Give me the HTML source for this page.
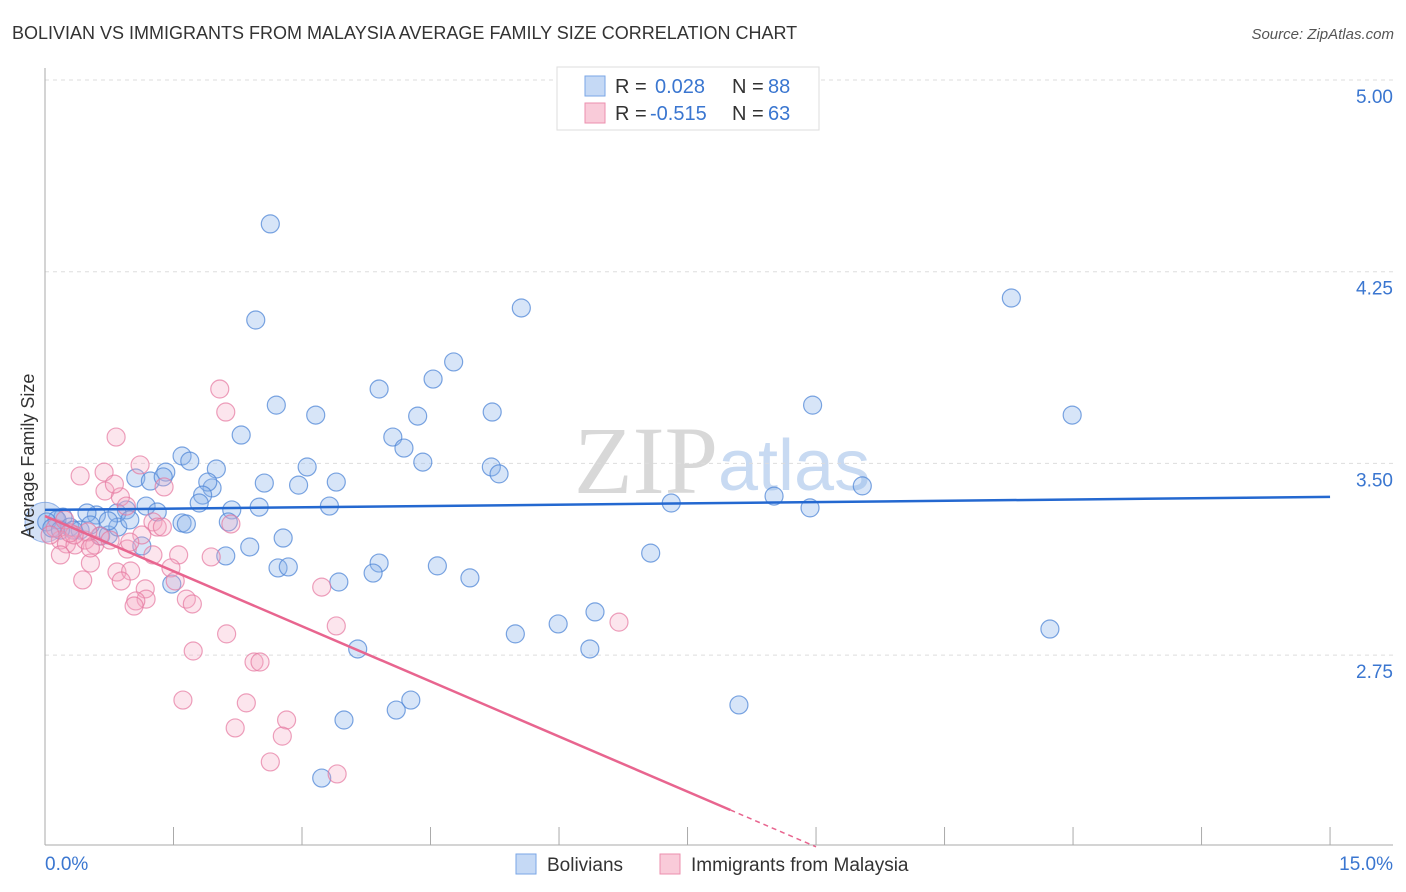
<!DOCTYPE html>
<html><head><meta charset="utf-8"><style>
body{margin:0;background:#fff;font-family:"Liberation Sans",sans-serif}
svg{display:block}
</style></head><body>
<svg id="c" width="1406" height="892" xmlns="http://www.w3.org/2000/svg">
<text x="12" y="39" font-size="18" fill="#333">BOLIVIAN VS IMMIGRANTS FROM MALAYSIA AVERAGE FAMILY SIZE CORRELATION CHART</text>
<text x="1394" y="39" font-size="15" fill="#555" font-style="italic" text-anchor="end">Source: ZipAtlas.com</text>
<text x="718" y="493" font-size="96" fill="#d8d8d8" text-anchor="end" font-family="Liberation Serif,serif">ZIP</text>
<text x="718" y="490" font-size="72" fill="#c8daf2">atlas</text>
<g id="grid"></g>
<g id="pts"></g>
<g id="lines"></g>
<text transform="translate(34,456) rotate(-90)" font-size="18" fill="#333" text-anchor="middle">Average Family Size</text>
<g>
<rect x="557" y="67" width="262" height="63" fill="#fff" stroke="#ddd"/>
<rect x="585" y="76" width="20" height="20" fill="#c5d9f5" stroke="#7aa6e6"/>
<rect x="585" y="103" width="20" height="20" fill="#f9cbd9" stroke="#ec8fae"/>
<text x="615" y="93" font-size="20" fill="#333">R =</text>
<text x="655" y="93" font-size="20" fill="#3a76d0">0.028</text>
<text x="732" y="93" font-size="20" fill="#333">N =</text>
<text x="768" y="93" font-size="20" fill="#3a76d0">88</text>
<text x="615" y="120" font-size="20" fill="#333">R =</text>
<text x="650" y="120" font-size="20" fill="#3a76d0">-0.515</text>
<text x="732" y="120" font-size="20" fill="#333">N =</text>
<text x="768" y="120" font-size="20" fill="#3a76d0">63</text>
</g>
<g>
<rect x="516" y="854" width="20" height="20" fill="#c5d9f5" stroke="#7aa6e6"/>
<text x="547" y="871" font-size="19" fill="#333">Bolivians</text>
<rect x="660" y="854" width="20" height="20" fill="#f9cbd9" stroke="#ec8fae"/>
<text x="691" y="871" font-size="19" fill="#333">Immigrants from Malaysia</text>
</g>
<text x="45" y="870" font-size="19" fill="#3a76d0">0.0%</text>
<text x="1393" y="870" font-size="19" fill="#3a76d0" text-anchor="end">15.0%</text>
</svg>
<script>
const yTicks=[5.00,4.25,3.50,2.75];
const yTickLabels=["5.00","4.25","3.50","2.75"];
const xTicks=[0,1.5,3,4.5,6,7.5,9,10.5,12,13.5,15];
const bluePx=[[270,224],[256,320],[521,308],[1011,298],[454,362],[433,379],[379,389],[276,405],[316,415],[418,416],[492,412],[813,405],[1072,415],[241,435],[393,437],[404,448],[182,456],[190,461],[423,462],[216,469],[307,467],[491,467],[499,474],[166,472],[136,478],[150,481],[163,477],[264,483],[336,482],[299,485],[212,488],[208,482],[203,495],[199,503],[146,506],[126,510],[157,512],[232,510],[259,507],[329,506],[671,503],[774,496],[810,508],[862,486],[117,513],[96,515],[87,513],[63,517],[57,520],[47,522],[52,528],[70,527],[80,530],[101,536],[108,535],[182,523],[186,524],[228,522],[142,546],[250,547],[283,538],[226,556],[651,553],[379,563],[437,566],[373,573],[278,568],[288,567],[339,582],[470,578],[172,584],[595,612],[558,624],[515,634],[590,649],[358,649],[1050,629],[411,700],[396,710],[739,705],[344,720],[322,778],[73,530],[90,525],[118,527],[130,520],[108,521],[60,530]];
const pinkPx=[[220,389],[226,412],[116,437],[80,476],[104,472],[140,465],[164,487],[105,491],[120,497],[126,506],[114,484],[153,522],[157,527],[162,527],[231,524],[142,535],[127,549],[153,555],[179,555],[211,557],[90,563],[117,572],[131,571],[171,568],[83,580],[145,589],[175,581],[121,581],[146,599],[136,601],[134,606],[186,599],[192,604],[322,587],[336,626],[619,622],[227,634],[193,651],[254,662],[260,662],[183,700],[246,703],[287,720],[235,728],[282,736],[270,762],[337,774],[60,540],[66,544],[75,545],[85,540],[95,545],[100,536],[88,532],[55,528],[65,520],[74,535],[110,540],[50,535],[90,548],[130,542],[60,555],[70,533]];
const blueX=bluePx.map(p=>+((p[0]-45)/85.67).toFixed(2));
const blueY=bluePx.map(p=>+(5-(p[1]-80)/255.6).toFixed(3));
const pinkX=pinkPx.map(p=>+((p[0]-45)/85.67).toFixed(2));
const pinkY=pinkPx.map(p=>+(5-(p[1]-80)/255.6).toFixed(3));
const blueTrend=[[0,3.318],[15,3.369]];
const pinkTrend=[[0,3.294],[8.0,2.144],[9.0,2.0]];
const X=v=>45+v*85.67, Y=v=>80+(5-v)*255.6;
const NS="http://www.w3.org/2000/svg";
function mk(t,a,parent){const e=document.createElementNS(NS,t);for(const k in a)e.setAttribute(k,a[k]);parent.appendChild(e);return e;}
const grid=document.getElementById('grid');
yTicks.forEach((v,i)=>{
 const l=mk('line',{x1:45,x2:1393,y1:Y(v),y2:Y(v),stroke:'#ddd','stroke-dasharray':'4,4'},grid);
 
 
 const t=mk('text',{x:1393,y:Y(v)+23,'font-size':19,fill:'#3a76d0','text-anchor':'end'},grid);
 t.textContent=yTickLabels[i];
 
 
});
const ax=mk('line',{x1:45,x2:45,y1:68,y2:845,stroke:'#aaa'},grid);


const bx=mk('line',{x1:45,x2:1393,y1:845,y2:845,stroke:'#aaa'},grid);


xTicks.forEach(v=>{
 const l=mk('line',{x1:X(v),x2:X(v),y1:827,y2:845,stroke:'#aaa'},grid);
 
 
});
const pts=document.getElementById('pts');
const bc=mk('circle',{cx:X(0),cy:Y(3.27),r:20,fill:'rgba(130,170,230,0.35)',stroke:'rgba(90,140,220,0.6)'},pts);


blueX.forEach((x,i)=>{
 const c=mk('circle',{cx:X(x),cy:Y(blueY[i]),r:9,fill:'rgba(140,180,235,0.35)',stroke:'rgba(80,135,215,0.75)','stroke-width':1.2},pts);
 
 
});
pinkX.forEach((x,i)=>{
 const c=mk('circle',{cx:X(x),cy:Y(pinkY[i]),r:9,fill:'rgba(245,170,195,0.3)',stroke:'rgba(230,120,160,0.7)','stroke-width':1.2},pts);
 
 
});
const lines=document.getElementById('lines');
const bl=mk('line',{x1:X(blueTrend[0][0]),y1:Y(blueTrend[0][1]),x2:X(blueTrend[1][0]),y2:Y(blueTrend[1][1]),stroke:'#2468d0','stroke-width':2.5},lines);


const pl=mk('line',{x1:X(pinkTrend[0][0]),y1:Y(pinkTrend[0][1]),x2:X(pinkTrend[1][0]),y2:Y(pinkTrend[1][1]),stroke:'#e8658f','stroke-width':2.5},lines);


const pd=mk('line',{x1:X(pinkTrend[1][0]),y1:Y(pinkTrend[1][1]),x2:X(pinkTrend[2][0]),y2:Y(pinkTrend[2][1]),stroke:'#e8658f','stroke-width':1.5,'stroke-dasharray':'5,4'},lines);


</script>
</body></html>
